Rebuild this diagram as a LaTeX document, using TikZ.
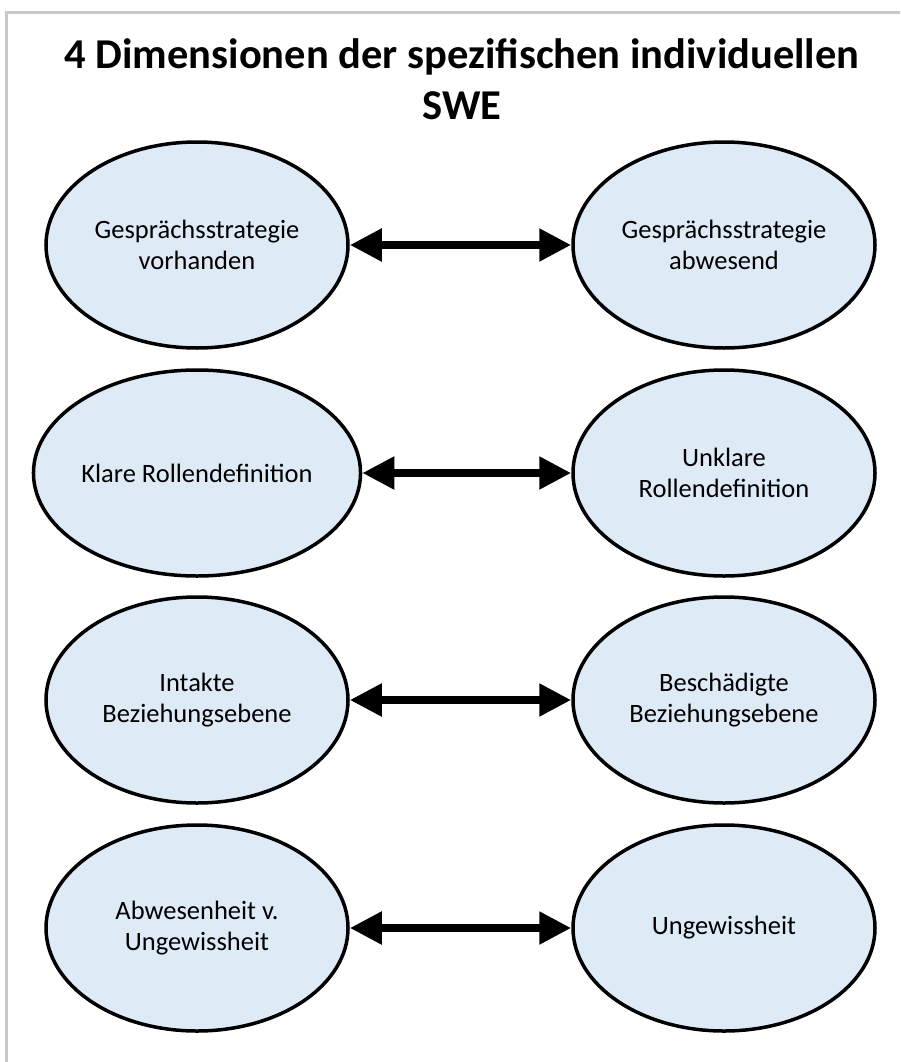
\documentclass[tikz,border=0pt]{standalone}
\usepackage{fontspec}
\setmainfont{Carlito}
\usepackage{tikz}
\usetikzlibrary{arrows.meta, positioning, calc, shapes.geometric}

\definecolor{dimfill}{HTML}{DEEBF7}
\definecolor{framegray}{HTML}{C8C8C8}

\tikzset{
  dimpole/.style={ellipse, draw=black, line width=3.5pt, fill=dimfill,
    minimum width=302pt, minimum height=206pt, inner sep=0pt, align=center,
    font=\fontsize{26.5}{31}\selectfont},
  dimlink/.style={{Triangle[length=32pt,width=31pt]}-{Triangle[length=32pt,width=31pt]}, line width=8pt},
}

\begin{document}
\begin{tikzpicture}[x=1pt, y=-1pt, thick]
        \useasboundingbox (0,0) rectangle (900,1062);
        % Frame (cut off at right and bottom)
        \draw [framegray, line width=3pt] (6.5,1062) -- (6.5,12.5) -- (900,12.5);
        % Title
        \node (title) [anchor=north, inner sep=0pt, align=center,
          font=\bfseries\fontsize{42.5}{51}\selectfont] at (462,38)
          {4 Dimensionen der spezifischen individuellen\\SWE};
        % Left poles
        \node (strat)  [dimpole] at (197,245) {Gesprächsstrategie\\vorhanden};
        \node (rolle)  [dimpole] at (197,473) {Klare Rollendefinition};
        \node (bez)    [dimpole] at (197,700) {Intakte\\Beziehungsebene};
        \node (gewiss) [dimpole] at (197,928) {Abwesenheit v.\\Ungewissheit};
        % Right poles
        \node (nostrat)  [dimpole] at (724,245) {Gesprächsstrategie\\abwesend};
        \node (norolle)  [dimpole] at (724,473) {Unklare\\Rollendefinition};
        \node (nobez)    [dimpole] at (724,700) {Beschädigte\\Beziehungsebene};
        \node (ungewiss) [dimpole] at (724,928) {Ungewissheit};
        % Double arrows between the poles
        \draw [dimlink] (strat) -- (nostrat);
        \draw [dimlink] (rolle) -- (norolle);
        \draw [dimlink] (bez) -- (nobez);
        \draw [dimlink] (gewiss) -- (ungewiss);
    \end{tikzpicture}
\end{document}
